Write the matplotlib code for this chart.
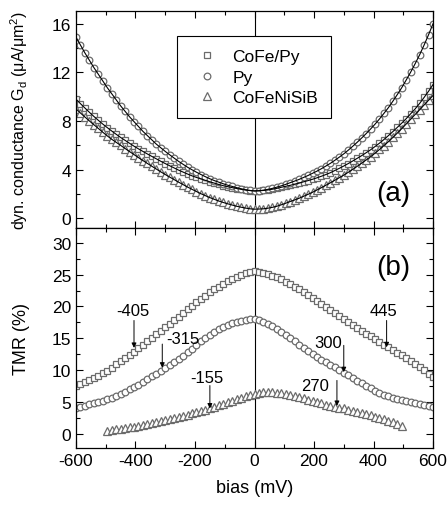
import numpy as np
import matplotlib
matplotlib.use('Agg')
import matplotlib.pyplot as plt
from matplotlib.ticker import MultipleLocator

plt.rcParams['font.family'] = ['Liberation Sans', 'DejaVu Sans']
plt.rcParams['mathtext.fontset'] = 'custom'
plt.rcParams['mathtext.rm'] = 'Liberation Sans'
plt.rcParams['axes.unicode_minus'] = False
plt.rcParams['font.size'] = 12.5

# bias steps (mV)
bias = np.arange(-600, 601, 15)
bias_tri = np.arange(-495, 496, 15)

# (a) dynamic conductance, uA/um^2
g_cofepy = [9.8, 9.43, 9.07, 8.72, 8.38, 8.06, 7.75, 7.46, 7.18, 6.91,
            6.65, 6.41, 6.17, 5.93, 5.71, 5.5, 5.29, 5.09, 4.89, 4.69,
            4.5, 4.32, 4.14, 3.96, 3.8, 3.64, 3.49, 3.36, 3.24, 3.12,
            3.0, 2.89, 2.78, 2.68, 2.6, 2.52, 2.45, 2.38, 2.32, 2.28,
            2.25,
            2.26, 2.29, 2.33, 2.39, 2.46, 2.55, 2.63, 2.71, 2.81, 2.9,
            3.0, 3.1, 3.21, 3.33, 3.46, 3.6, 3.75, 3.93, 4.11, 4.3,
            4.5, 4.71, 4.93, 5.15, 5.39, 5.63, 5.9, 6.18, 6.48, 6.8,
            7.13, 7.48, 7.83, 8.2, 8.6, 9.0, 9.45, 9.94, 10.45, 11.0]
g_py = [14.9, 14.25, 13.6, 13.0, 12.4, 11.85, 11.3, 10.75, 10.25, 9.75,
        9.25, 8.8, 8.35, 7.95, 7.55, 7.15, 6.8, 6.45, 6.1, 5.8,
        5.5, 5.22, 4.95, 4.68, 4.44, 4.2, 3.99, 3.79, 3.6, 3.42,
        3.25, 3.1, 2.97, 2.84, 2.72, 2.62, 2.52, 2.43, 2.35, 2.29,
        2.25,
        2.27, 2.31, 2.38, 2.46, 2.56, 2.67, 2.79, 2.93, 3.06, 3.2,
        3.36, 3.52, 3.7, 3.88, 4.08, 4.3, 4.52, 4.77, 5.03, 5.3,
        5.6, 5.92, 6.25, 6.6, 6.96, 7.34, 7.74, 8.17, 8.63, 9.1,
        9.63, 10.18, 10.75, 11.38, 12.03, 12.72, 13.45, 14.25, 15.1, 16.0]
g_cofenisib = [9.0, 8.66, 8.33, 8.01, 7.7, 7.39, 7.08, 6.78, 6.5, 6.25,
               6.0, 5.74, 5.49, 5.24, 4.99, 4.75, 4.51, 4.28, 4.05, 3.82,
               3.6, 3.39, 3.18, 2.97, 2.77, 2.57, 2.38, 2.2, 2.02, 1.86,
               1.7, 1.56, 1.42, 1.3, 1.19, 1.09, 0.99, 0.91, 0.84, 0.78,
               0.75,
               0.76, 0.78, 0.83, 0.9, 0.99, 1.11, 1.24, 1.38, 1.51, 1.65,
               1.81, 1.97, 2.14, 2.33, 2.52, 2.72, 2.92, 3.13, 3.34, 3.55,
               3.78, 4.02, 4.27, 4.53, 4.79, 5.06, 5.35, 5.66, 5.98, 6.3,
               6.65, 7.01, 7.38, 7.76, 8.15, 8.54, 8.93, 9.32, 9.71, 10.1]

# (b) TMR, %
tmr_cofepy = [7.6, 7.9, 8.2, 8.5, 8.82, 9.16, 9.53, 9.94, 10.4, 10.9,
              11.4, 11.9, 12.4, 12.93, 13.46, 14.0, 14.54, 15.08, 15.62, 16.16,
              16.7, 17.27, 17.84, 18.41, 18.98, 19.55, 20.12, 20.68, 21.2, 21.71,
              22.2, 22.67, 23.12, 23.56, 23.96, 24.33, 24.67, 24.98, 25.22, 25.4,
              25.5,
              25.42, 25.25, 25.05, 24.82, 24.55, 24.23, 23.88, 23.5, 23.1, 22.7,
              22.26, 21.8, 21.35, 20.88, 20.4, 19.92, 19.44, 18.96, 18.48, 18.0,
              17.55, 17.1, 16.65, 16.2, 15.75, 15.3, 14.85, 14.42, 14.0, 13.6,
              13.18, 12.76, 12.34, 11.9, 11.43, 10.94, 10.45, 9.96, 9.48, 9.0]
tmr_py = [4.1, 4.27, 4.45, 4.63, 4.82, 5.01, 5.21, 5.43, 5.68, 5.96,
          6.28, 6.62, 6.98, 7.36, 7.76, 8.18, 8.61, 9.04, 9.46, 9.88,
          10.3, 10.76, 11.24, 11.74, 12.26, 12.82, 13.4, 13.98, 14.55, 15.1,
          15.6, 16.03, 16.43, 16.79, 17.09, 17.35, 17.56, 17.74, 17.87, 17.96,
          18.0,
          17.85, 17.6, 17.3, 16.93, 16.5, 16.03, 15.54, 15.04, 14.52, 14.0,
          13.5, 13.02, 12.55, 12.11, 11.68, 11.27, 10.86, 10.44, 10.02, 9.6,
          9.18, 8.76, 8.34, 7.93, 7.53, 7.15, 6.79, 6.46, 6.16, 5.9,
          5.67, 5.46, 5.26, 5.1, 4.95, 4.81, 4.68, 4.56, 4.44, 4.3]
tmr_cofenisib = [0.53, 0.62, 0.71, 0.8, 0.91, 1.03, 1.16, 1.29, 1.42, 1.55,
                 1.7, 1.86, 2.03, 2.2, 2.36, 2.52, 2.69, 2.87, 3.05, 3.23,
                 3.41, 3.6, 3.8, 4.0, 4.24, 4.48, 4.72, 4.96, 5.2, 5.44,
                 5.68, 5.9, 6.12,
                 6.3,
                 6.45, 6.56, 6.6, 6.58, 6.5, 6.38, 6.25, 6.1, 5.95, 5.8,
                 5.6, 5.38, 5.17, 4.98, 4.8, 4.62, 4.45, 4.3, 4.15, 4.0,
                 3.82, 3.64, 3.46, 3.28, 3.1, 2.92, 2.73, 2.52, 2.31, 2.1,
                 1.87, 1.6, 1.33]

labels = ['CoFe/Py', 'Py', 'CoFeNiSiB']
markers = ['s', 'o', '^']
msizes = [4.4, 4.8, 5.3]
mcol = '0.42'

# arrows in (b): x, tail, tip, text, text x, text y
arr_x = [-405, -310, -150, 444, 300, 277]
arr_tail = [17.8, 14.1, 7.6, 17.8, 13.9, 8.4]
arr_tip = [13.5, 10.4, 4.0, 13.6, 9.7, 4.4]
arr_txt = ['-405', '-315', '-155', '445', '300', '270']
txt_x = [-408, -240, -161, 435, 248, 203]
txt_y = [19.3, 14.9, 8.9, 19.3, 14.4, 7.6]

fig = plt.figure(figsize=(4.48, 5.06), dpi=100)
ax1 = fig.add_axes([0.1696, 0.5474, 0.797, 0.4289])
ax2 = fig.add_axes([0.1696, 0.1126, 0.797, 0.4348])

g_all = [g_cofepy, g_py, g_cofenisib]
for g, lab, m, ms in zip(g_all, labels, markers, msizes):
    ax1.plot(bias, g, ls='none', marker=m, ms=ms, mfc='white', mec=mcol, mew=0.9, label=lab, zorder=2)
    ax1.plot(bias, g, color='k', lw=0.8, zorder=3)

tmr_all = [(bias, tmr_cofepy), (bias, tmr_py), (bias_tri, tmr_cofenisib)]
for (x, t), m, ms in zip(tmr_all, markers, msizes):
    ax2.plot(x, t, ls='none', marker=m, ms=ms, mfc='white', mec=mcol, mew=0.9, zorder=2)

for i in range(len(arr_x)):
    ax2.annotate('', xy=(arr_x[i], arr_tip[i]), xytext=(arr_x[i], arr_tail[i]),
                 arrowprops=dict(arrowstyle='-|>', color='k', lw=0.7, mutation_scale=7,
                                 shrinkA=0, shrinkB=0))
    ax2.text(txt_x[i], txt_y[i], arr_txt[i], ha='center', va='center', fontsize=12)

for ax in (ax1, ax2):
    ax.set_xlim(-600, 600)
    ax.axvline(0, color='k', lw=0.8, zorder=1)
    ax.xaxis.set_major_locator(MultipleLocator(200))
    ax.xaxis.set_minor_locator(MultipleLocator(100))
    ax.tick_params(which='both', direction='in', top=True, right=True, width=0.8)
    ax.tick_params(which='major', length=5, labelsize=12.5)
    ax.tick_params(which='minor', length=3)
    for s in ax.spines.values():
        s.set_linewidth(0.9)

ax1.set_ylim(-0.8, 17.05)
ax1.yaxis.set_major_locator(MultipleLocator(4))
ax1.yaxis.set_minor_locator(MultipleLocator(2))
ax1.tick_params(labelbottom=False)
ax1.set_ylabel(r'dyn. conductance G$_\mathregular{d}$ ($\mathregular{\mu}$A/$\mathregular{\mu}$m$^\mathregular{2}$)',
               fontsize=11.5)
ax1.yaxis.set_label_coords(-0.13, 0.5)
ax1.text(0.888, 0.16, '(a)', transform=ax1.transAxes, ha='center', va='center', fontsize=20)

leg = ax1.legend(loc='upper left', bbox_to_anchor=(0.283, 0.885), borderaxespad=0,
                 fancybox=False, edgecolor='k', framealpha=1, handlelength=2.0,
                 handletextpad=0.45, labelspacing=0.32, borderpad=0.74, fontsize=12.5)
leg.get_frame().set_linewidth(0.8)

ax2.set_ylim(-2.2, 32.3)
ax2.yaxis.set_major_locator(MultipleLocator(5))
ax2.yaxis.set_minor_locator(MultipleLocator(2.5))
ax2.set_ylabel('TMR (%)', fontsize=13)
ax2.yaxis.set_label_coords(-0.13, 0.5)
ax2.set_xlabel('bias (mV)', fontsize=13, labelpad=8)
ax2.text(0.888, 0.823, '(b)', transform=ax2.transAxes, ha='center', va='center', fontsize=20)

fig.savefig('out.png', dpi=100)
